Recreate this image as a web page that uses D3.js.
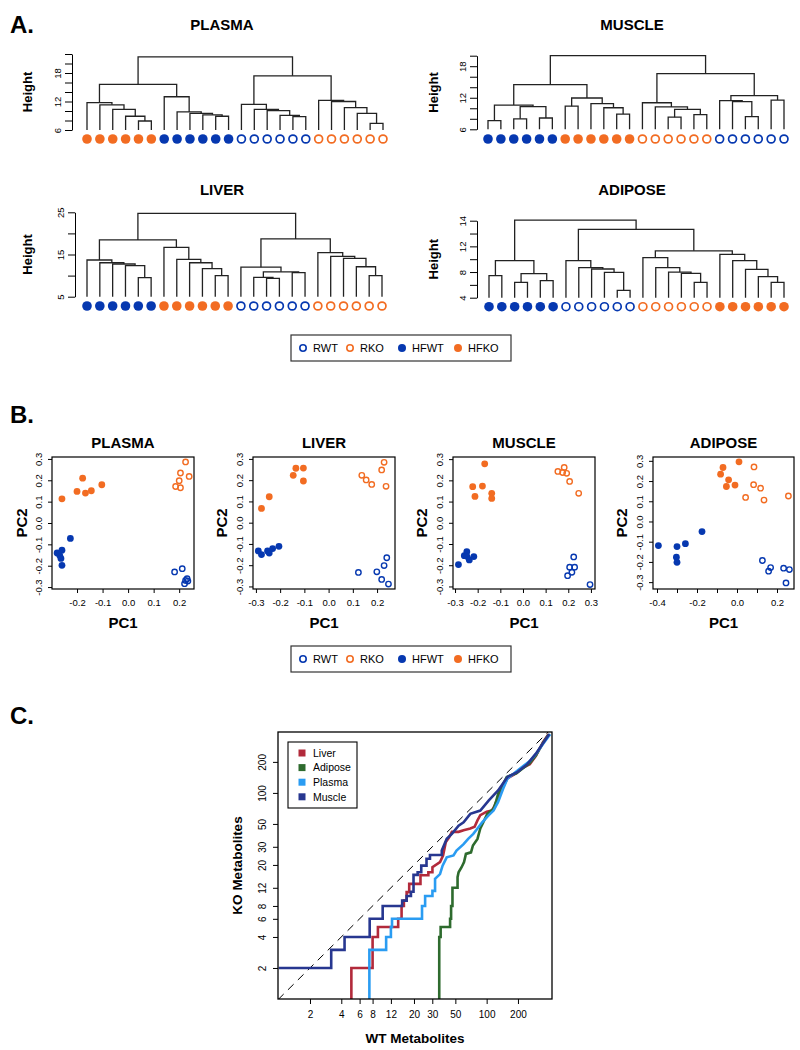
<!DOCTYPE html>
<html><head><meta charset="utf-8">
<script src="https://cdn.jsdelivr.net/npm/d3@7"></script>
<style>body{margin:0;background:#fff} svg{display:block}</style>
</head><body><svg id="c" width="800" height="1050"></svg>
<script>
// ---------------- DATA ----------------
const groups = ["RWT", "RKO", "HFWT", "HFKO"];
// Dendrograms: merges in R hclust style [a, b, height]; negative = leaf (1-based, display order), positive = earlier merge row
const plasmaLeaves = ["HFKO","HFKO","HFKO","HFKO","HFKO","HFKO","HFWT","HFWT","HFWT","HFWT","HFWT","HFWT","RWT","RWT","RWT","RWT","RWT","RWT","RKO","RKO","RKO","RKO","RKO","RKO"];
const plasmaMerges = [[-5,-6,7.9],[-4,1,8.9],[-3,2,10.35],[-2,3,11.3],[-1,4,11.75],[-11,-12,8.9],[-10,6,9.2],[-9,7,9.5],[-8,8,9.8],[-7,9,13.0],[5,10,15.6],[-17,-18,8.8],[-16,12,9.1],[-15,13,10.1],[-14,14,10.35],[-13,15,11.4],[-23,-24,7.4],[-22,17,9.5],[-21,18,10.7],[-20,19,12.0],[-19,20,12.25],[16,21,17.4],[11,22,21.4]];
const plasmaTicks = [6,8,10,12,14,16,18,20,22];
const plasmaTickLabels = ["6","","","12","","","18","",""];

const muscleLeaves = ["HFWT","HFWT","HFWT","HFWT","HFWT","HFWT","HFKO","HFKO","HFKO","HFKO","HFKO","HFKO","RKO","RKO","RKO","RKO","RKO","RKO","RWT","RWT","RWT","RWT","RWT","RWT"];
const muscleMerges = [[-1,-2,7.65],[-3,-4,8.0],[-5,-6,8.15],[2,3,10.3],[1,4,10.6],[-7,-8,10.4],[-11,-12,8.9],[-10,7,10.1],[-9,8,10.9],[6,9,11.95],[5,10,14.5],[-15,-16,8.3],[-17,-18,8.8],[12,13,9.8],[-14,14,10.25],[-13,15,11.05],[-21,-22,8.4],[-20,17,11.25],[-19,18,11.45],[-23,-24,11.55],[19,20,12.4],[16,21,16.6],[11,22,20.0]];
const muscleTicks = [6,8,10,12,14,16,18,20];
const muscleTickLabels = ["6","","","12","","","18",""];

const liverLeaves = ["HFWT","HFWT","HFWT","HFWT","HFWT","HFWT","HFKO","HFKO","HFKO","HFKO","HFKO","HFKO","RWT","RWT","RWT","RWT","RWT","RWT","RKO","RKO","RKO","RKO","RKO","RKO"];
const liverMerges = [[-5,-6,9.5],[-4,1,12.35],[-3,2,12.75],[-2,3,13.05],[-1,4,13.7],[-11,-12,10.0],[-10,6,11.65],[-9,7,13.05],[-8,8,13.85],[-7,9,16.7],[5,10,18.45],[-15,-16,9.35],[-14,12,9.6],[-17,-18,10.7],[13,14,10.9],[-13,15,12.0],[-23,-24,10.0],[-22,17,12.1],[-21,18,14.1],[-20,19,14.55],[-19,20,15.45],[16,21,18.7],[11,22,24.75]];
const liverTicks = [5,10,15,20,25];
const liverTickLabels = ["5","","15","","25"];

const adiposeLeaves = ["HFWT","HFWT","HFWT","HFWT","HFWT","HFWT","RWT","RWT","RWT","RWT","RWT","RWT","RKO","RKO","RKO","RKO","RKO","RKO","HFKO","HFKO","HFKO","HFKO","HFKO","HFKO"];
const adiposeMerges = [[-1,-2,7.43],[-3,-4,6.4],[-5,-6,6.65],[2,3,7.75],[1,4,9.77],[-11,-12,5.15],[-10,6,7.95],[-9,7,8.47],[-8,8,8.68],[-7,9,9.77],[-17,-18,6.4],[-16,11,7.8],[-15,12,8.0],[-14,13,8.68],[-13,14,10.23],[-23,-24,6.4],[-22,16,7.27],[-21,17,8.4],[-20,18,9.77],[-19,19,10.75],[15,20,11.3],[10,21,14.65],[5,22,16.1]];
const adiposeTicks = [4,6,8,10,12,14,16];
const adiposeTickLabels = ["4","","8","","12","","14"];

// PCA scores [PC1, PC2]
const plasmaRWT  = [[0.212,-0.214],[0.182,-0.229],[0.231,-0.261],[0.225,-0.269],[0.234,-0.272],[0.221,-0.284]];
const plasmaRKO  = [[0.225,0.286],[0.205,0.234],[0.200,0.198],[0.239,0.218],[0.186,0.171],[0.205,0.165]];
const plasmaHFWT = [[-0.226,-0.072],[-0.259,-0.127],[-0.278,-0.140],[-0.268,-0.151],[-0.263,-0.166],[-0.259,-0.198]];
const plasmaHFKO = [[-0.259,0.113],[-0.200,0.148],[-0.178,0.210],[-0.167,0.140],[-0.144,0.151],[-0.103,0.179]];

const liverRWT  = [[0.123,-0.234],[0.199,-0.231],[0.240,-0.165],[0.229,-0.202],[0.219,-0.267],[0.247,-0.289]];
const liverRKO  = [[0.137,0.223],[0.155,0.201],[0.178,0.180],[0.219,0.248],[0.229,0.284],[0.237,0.171]];
const liverHFWT = [[-0.290,-0.133],[-0.277,-0.150],[-0.252,-0.133],[-0.245,-0.143],[-0.231,-0.122],[-0.205,-0.111]];
const liverHFKO = [[-0.277,0.067],[-0.245,0.122],[-0.146,0.223],[-0.135,0.256],[-0.104,0.257],[-0.104,0.196]];

const muscleRWT  = [[0.224,-0.161],[0.206,-0.209],[0.228,-0.209],[0.216,-0.233],[0.197,-0.249],[0.296,-0.291]];
const muscleRKO  = [[0.154,0.242],[0.175,0.237],[0.182,0.261],[0.193,0.233],[0.206,0.195],[0.246,0.139]];
const muscleHFWT = [[-0.285,-0.197],[-0.259,-0.155],[-0.248,-0.136],[-0.248,-0.158],[-0.237,-0.175],[-0.217,-0.159]];
const muscleHFKO = [[-0.169,0.278],[-0.222,0.170],[-0.212,0.124],[-0.179,0.173],[-0.138,0.139],[-0.138,0.115]];

const adiposeRWT  = [[0.127,-0.193],[0.158,-0.246],[0.168,-0.228],[0.233,-0.231],[0.262,-0.238],[0.245,-0.304]];
const adiposeRKO  = [[0.085,0.270],[0.083,0.182],[0.118,0.165],[0.135,0.106],[0.043,0.119],[0.257,0.126]];
const adiposeHFWT = [[-0.393,-0.119],[-0.300,-0.124],[-0.303,-0.177],[-0.300,-0.202],[-0.258,-0.110],[-0.175,-0.050]];
const adiposeHFKO = [[0.010,0.295],[-0.070,0.267],[-0.082,0.234],[-0.042,0.206],[-0.053,0.173],[-0.010,0.180]];

const pcaYTicks = [-0.3,-0.2,-0.1,0.0,0.1,0.2,0.3];
const plasmaXTicks = [-0.2,-0.1,0.0,0.1,0.2];
const liverXTicks = [-0.3,-0.2,-0.1,0.0,0.1,0.2];
const muscleXTicks = [-0.3,-0.2,-0.1,0.0,0.1,0.2,0.3];
const adiposeXTicks = [-0.4,-0.3,-0.2,-0.1,0.0,0.1,0.2];
const adiposeXLabelled = [-0.4,-0.2,0.0,0.2];

// Panel C: cumulative curves [WT metabolites, KO metabolites] (vertices)
const tissuesC = ["Liver", "Adipose", "Plasma", "Muscle"];
const liverCurve = [[5,1],[5,2],[8,2],[8,4],[9,4],[9,5],[14.1,5],[14.1,6],[15.2,6],[15.2,8],[16,8],[16,9],[17,9],[17,10.9],[18,10.9],[18,13.1],[23.1,13.1],[23.1,15.9],[27.5,15.9],[27.5,17],[30.1,17],[30.1,19],[35.6,21.3],[38.1,24.7],[40.4,33.1],[43.7,37.2],[46.3,41.9],[53.7,41.9],[60,43.5],[69.6,45.2],[76.6,47],[81.6,54.1],[86.9,60.8],[100,65.8],[112.4,67.4],[119.8,75.9],[129,90.9],[144,114.9],[158.6,138.3],[193,155.7],[222,175],[260,190],[298,229],[348,311],[395,372]];
const adiposeCurve = [[35,1],[35,4],[36.1,4],[36.1,5],[44.5,5],[44.5,6],[45.5,6],[45.5,8],[46.9,8],[46.9,12],[52.5,12],[52.5,15.2],[53.7,17],[57.4,19],[60.6,21.3],[63.2,25.6],[70.7,26.5],[73.8,30.9],[81.6,35.8],[86.9,45.2],[92.9,51.9],[101.4,62.6],[116.6,70.2],[124,84.6],[128.9,97.9],[144,121.8],[156,142.9],[193,155],[222,173],[260,195],[298,232],[348,305],[395,368]];
const plasmaCurve = [[7.45,1],[7.45,3],[10.8,3],[10.8,4],[12,4],[12,5],[12.3,5],[12.3,6],[23.9,6],[23.9,8],[25.6,8],[25.6,10],[30.1,10],[30.1,11.2],[31.9,11.2],[31.9,14.7],[35.6,16.3],[37.7,19.7],[41.3,23.7],[48,24.7],[51.3,27.6],[60,31.8],[66.4,35.8],[74.4,40],[81.6,45.2],[90.5,51.9],[104.9,60.8],[116.6,67.4],[128.9,81.9],[144,109.6],[158.6,138],[214,175],[260,204],[298,239],[348,298],[408,372]];
const muscleCurve = [[1,2],[3.2,2],[3.2,3],[4.3,3],[4.3,4],[7.5,4],[7.5,6],[10,6],[10,8],[15.4,8],[15.4,9],[17,9],[17,10],[18.7,10],[18.7,11],[19.8,11],[19.8,16],[21.7,16],[21.7,17],[23.5,17],[23.5,19.7],[26.4,19.7],[26.4,23],[28.5,23],[28.5,25],[37,25],[37,27.6],[41.3,35.8],[46.3,40],[53.7,48.1],[60,51.9],[69.6,62.6],[86.9,67.4],[104.9,84.6],[128.9,105.8],[158.6,142.9],[199,160],[246,190],[302,245],[400,372]];
const cTicks = [2,4,6,8,12,20,30,50,100,200];

// ---------------- STYLE / LAYOUT ----------------
const FONT = '"Liberation Sans", Arial, Helvetica, sans-serif';
const BLUE = "#0638B0", ORANGE = "#F26C22";
const grpStyle = {RWT:{c:BLUE,fill:false}, RKO:{c:ORANGE,fill:false}, HFWT:{c:BLUE,fill:true}, HFKO:{c:ORANGE,fill:true}};
const cColors = {Liver:"#B22A3B", Adipose:"#2E6B2E", Plasma:"#2A9CF2", Muscle:"#273790"};

const svg = d3.select("#c").attr("font-family", FONT);
svg.append("rect").attr("width",800).attr("height",1050).attr("fill","#fff");

function marker(g, cx, cy, rOuter, grp, sw) {
  const s = grpStyle[grp];
  if (s.fill) g.append("circle").attr("cx",cx).attr("cy",cy).attr("r",rOuter).attr("fill",s.c);
  else g.append("circle").attr("cx",cx).attr("cy",cy).attr("r",rOuter - sw/2).attr("fill","none").attr("stroke",s.c).attr("stroke-width",sw);
}
function text(g, x, y, str, size, weight, anchor, rot) {
  const t = g.append("text").attr("font-size",size).attr("font-weight",weight||"normal")
    .attr("text-anchor",anchor||"middle").attr("fill","#000").text(str);
  if (rot) t.attr("transform",`translate(${x},${y}) rotate(-90)`);
  else t.attr("x",x).attr("y",y);
  return t;
}
function rotLeftAxis(g, scale, x, ticks, fmt, tickLen, gap, fs, keepDomain) {
  const ax = d3.axisLeft(scale).tickValues(ticks).tickSize(tickLen).tickSizeOuter(0).tickFormat(fmt);
  const a = g.append("g").attr("transform",`translate(${x},0)`).call(ax)
    .attr("font-family",FONT).attr("font-size",fs).attr("color","#000");
  if (!keepDomain) a.select(".domain").remove();
  a.selectAll("line,path").attr("stroke-width",1);
  a.selectAll("text").attr("transform","rotate(-90)").attr("x",0).attr("y",-(tickLen+gap)).attr("dy",0).attr("text-anchor","middle");
  return a;
}
function bottomAxis(g, scale, y, ticks, fmt, tickLen, pad, fs) {
  const ax = d3.axisBottom(scale).tickValues(ticks).tickSize(tickLen).tickSizeOuter(0).tickPadding(pad).tickFormat(fmt);
  const a = g.append("g").attr("transform",`translate(0,${y})`).call(ax)
    .attr("font-family",FONT).attr("font-size",fs).attr("color","#000");
  a.select(".domain").remove();
  a.selectAll("line").attr("stroke-width",1);
  return a;
}

// ---------------- A: dendrograms ----------------
text(svg, 10, 33, "A.", 24, "bold", "start");
const dendros = [
  {name:"PLASMA", leaves:plasmaLeaves, merges:plasmaMerges, ticks:plasmaTicks, labels:plasmaTickLabels, dom:[6,22], ax:72, x0:87, x1:383, yb:130, yt:54, leafY:139, tx:222, ty:30, hx:27},
  {name:"MUSCLE", leaves:muscleLeaves, merges:muscleMerges, ticks:muscleTicks, labels:muscleTickLabels, dom:[6,20], ax:477, x0:488, x1:784, yb:129.3, yt:55.7, leafY:139, tx:632, ty:30, hx:433},
  {name:"LIVER", leaves:liverLeaves, merges:liverMerges, ticks:liverTicks, labels:liverTickLabels, dom:[5,25], ax:75, x0:87, x1:382, yb:296.7, yt:212.3, leafY:306, tx:222, ty:195, hx:27},
  {name:"ADIPOSE", leaves:adiposeLeaves, merges:adiposeMerges, ticks:adiposeTicks, labels:adiposeTickLabels, dom:[4,16], ax:477, x0:489, x1:784, yb:297.7, yt:220.7, leafY:306.7, tx:632, ty:195, hx:433}
];
dendros.forEach(d => {
  const g = svg.append("g");
  const x = d3.scaleLinear().domain([0, d.leaves.length-1]).range([d.x0, d.x1]);
  const y = d3.scaleLinear().domain(d.dom).range([d.yb, d.yt]);
  const nodes = [];
  const pos = id => id < 0 ? {x: x(-id-1), h: d.dom[0]} : nodes[id-1];
  d.merges.forEach(([a,b,h]) => {
    const A = pos(a), B = pos(b);
    g.append("path").attr("d", `M${A.x},${y(A.h)}V${y(h)}H${B.x}V${y(B.h)}`)
      .attr("fill","none").attr("stroke","#222").attr("stroke-width",1.3);
    nodes.push({x:(A.x+B.x)/2, h:h});
  });
  d.leaves.forEach((grp,i) => marker(g, x(i), d.leafY, 4.8, grp, 1.7));
  rotLeftAxis(g, y, d.ax, d.ticks, (v,i) => d.labels[i], 7, 4, 9.5, true);
  text(g, d.tx, d.ty, d.name, 15, "bold");
  text(g, d.hx + 5, (d.yb+d.yt)/2, "Height", 13, "bold", "middle", true);
});

function legend(y0) {
  const g = svg.append("g");
  g.append("rect").attr("x",291).attr("y",y0).attr("width",220).attr("height",26)
    .attr("fill","none").attr("stroke","#333").attr("stroke-width",1.2);
  const xs = [303, 350, 402, 458];
  groups.forEach((grp,i) => {
    marker(g, xs[i], y0+13, 4, grp, 1.6);
    text(g, xs[i]+10, y0+17, grp, 11, "normal", "start");
  });
}
legend(335);

// ---------------- B: PCA ----------------
text(svg, 10, 423, "B.", 24, "bold", "start");
const pcas = [
  {name:"PLASMA", sets:[plasmaRWT,plasmaRKO,plasmaHFWT,plasmaHFKO], x0:52, x1:194, xdom:[-0.298,0.258], ydom:[-0.309,0.309], xt:plasmaXTicks, xl:plasmaXTicks, pc2x:22},
  {name:"LIVER", sets:[liverRWT,liverRKO,liverHFWT,liverHFKO], x0:253, x1:395, xdom:[-0.312,0.274], ydom:[-0.312,0.309], xt:liverXTicks, xl:liverXTicks, pc2x:222},
  {name:"MUSCLE", sets:[muscleRWT,muscleRKO,muscleHFWT,muscleHFKO], x0:453, x1:595, xdom:[-0.309,0.318], ydom:[-0.312,0.31], xt:muscleXTicks, xl:muscleXTicks, pc2x:422},
  {name:"ADIPOSE", sets:[adiposeRWT,adiposeRKO,adiposeHFWT,adiposeHFKO], x0:653, x1:794, xdom:[-0.42,0.285], ydom:[-0.334,0.319], xt:adiposeXTicks, xl:adiposeXLabelled, pc2x:622}
];
const fmt1 = v => d3.format(".1f")(v).replace("\u2212","-");
const BT = 457, BB = 589;
pcas.forEach(p => {
  const g = svg.append("g");
  const x = d3.scaleLinear().domain(p.xdom).range([p.x0, p.x1]);
  const y = d3.scaleLinear().domain(p.ydom).range([BB, BT]);
  groups.forEach((grp,k) => p.sets[k].forEach(([a,b]) => marker(g, x(a), y(b), 3.4, grp, 1.4)));
  g.append("rect").attr("x",p.x0).attr("y",BT).attr("width",p.x1-p.x0).attr("height",BB-BT)
    .attr("fill","none").attr("stroke","#000").attr("stroke-width",1.2);
  rotLeftAxis(g, y, p.x0, pcaYTicks, fmt1, 4, 6.5, 9.5, false);
  bottomAxis(g, x, BB, p.xt, v => p.xl.some(l => Math.abs(l-v)<1e-9) ? fmt1(v) : "", 4, 6, 9.5);
  text(g, (p.x0+p.x1)/2, 448, p.name, 15, "bold");
  text(g, (p.x0+p.x1)/2, 628, "PC1", 15, "bold");
  text(g, p.pc2x + 5, (BT+BB)/2, "PC2", 15, "bold", "middle", true);
});
legend(646);

// ---------------- C: cumulative curves ----------------
text(svg, 10, 724, "C.", 24, "bold", "start");
const CX0 = 278, CX1 = 552, CY0 = 732, CY1 = 999;
const xs = d3.scaleLog().domain([0.985, 425]).range([CX0, CX1]);
const ys = d3.scaleLog().domain([1.0, 390]).range([CY1, CY0]);
const gc = svg.append("g");
svg.append("defs").append("clipPath").attr("id","clipC").append("rect")
  .attr("x",CX0).attr("y",CY0).attr("width",CX1-CX0).attr("height",CY1-CY0);
const inner = gc.append("g").attr("clip-path","url(#clipC)");
inner.append("line").attr("x1",xs(0.985)).attr("y1",ys(0.985)).attr("x2",xs(425)).attr("y2",ys(425))
  .attr("stroke","#000").attr("stroke-width",1).attr("stroke-dasharray","8,6");
const lineGen = d3.line().x(d => xs(d[0])).y(d => ys(d[1]));
const curves = {Liver:liverCurve, Adipose:adiposeCurve, Plasma:plasmaCurve, Muscle:muscleCurve};
tissuesC.forEach(t => {
  inner.append("path").attr("d", lineGen(curves[t])).attr("fill","none")
    .attr("stroke", cColors[t]).attr("stroke-width",2.6).attr("stroke-linejoin","miter");
});
gc.append("rect").attr("x",CX0).attr("y",CY0).attr("width",CX1-CX0).attr("height",CY1-CY0)
  .attr("fill","none").attr("stroke","#000").attr("stroke-width",1.3);
rotLeftAxis(gc, ys, CX0, cTicks, v => String(v), 5, 7.4, 10, false);
bottomAxis(gc, xs, CY1, cTicks, v => String(v), 5, 7, 10);
text(gc, (CX0+CX1)/2, 1043, "WT Metabolites", 13.5, "bold");
text(gc, 242, (CY0+CY1)/2, "KO Metabolites", 13.5, "bold", "middle", true);
// legend C
const lg = gc.append("g");
lg.append("rect").attr("x",288).attr("y",742).attr("width",69).attr("height",66)
  .attr("fill","#fff").attr("stroke","#000").attr("stroke-width",1.1);
tissuesC.forEach((t,i) => {
  const cy = 753 + i*14.6;
  lg.append("rect").attr("x",298.5).attr("y",cy-3.5).attr("width",7).attr("height",7).attr("fill",cColors[t]);
  text(lg, 313, cy+3.8, t, 10.5, "normal", "start");
});
</script>
</body></html>
